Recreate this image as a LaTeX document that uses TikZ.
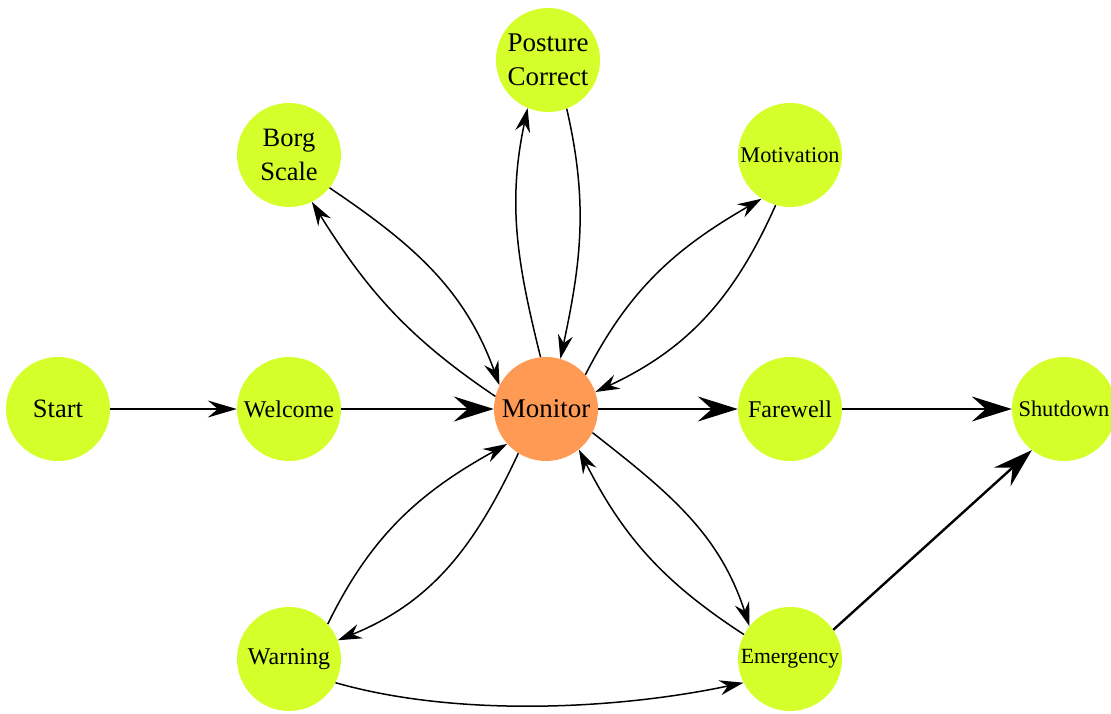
\documentclass[tikz,border=0pt]{standalone}
\usepackage{fontspec}
\setmainfont{Liberation Serif}
\usetikzlibrary{arrows.meta}
\definecolor{stgreen}{RGB}{213,255,43}
\definecolor{storange}{RGB}{255,154,85}
\begin{document}
\begin{tikzpicture}[x=1pt,y=1pt,
  state/.style={circle, fill=stgreen, minimum size=104pt, inner sep=0pt, align=center},
  bigarrow/.style={line width=2.4pt, -{Stealth[length=40pt,width=25pt,inset=14pt]}},
  thinarrow/.style={line width=1.7pt, -{Stealth[length=29pt,width=17pt,inset=10pt]}},
  curvearrow/.style={line width=1.5pt, -{Stealth[length=24pt,width=15pt,inset=8pt]}}]
\useasboundingbox (0,0) rectangle (1111,713);
\node[state, font=\fontsize{26.5}{32}\selectfont] (start) at (58,304) {Start};
\node[state, font=\fontsize{24}{29}\selectfont] (welcome) at (289,304) {Welcome};
\node[state, fill=storange, font=\fontsize{27}{32}\selectfont] (monitor) at (546,304) {Monitor};
\node[state, font=\fontsize{24}{29}\selectfont] (farewell) at (790,304) {Farewell};
\node[state, font=\fontsize{22.4}{27}\selectfont] (shutdown) at (1064,304) {Shutdown};
\node[state, font=\fontsize{26.5}{34}\selectfont] (borg) at (289,558) {Borg\\Scale};
\node[state, font=\fontsize{27}{34}\selectfont] (posture) at (548,653) {Posture\\Correct};
\node[state, font=\fontsize{22.3}{27}\selectfont] (motivation) at (790,558) {Motivation};
\node[state, font=\fontsize{24}{29}\selectfont] (warning) at (289,54) {Warning};
\node[state, font=\fontsize{21.7}{26}\selectfont] (emergency) at (790,54) {Emergency};

\draw[thinarrow] (start.east) -- (welcome.west);
\draw[bigarrow] (welcome.east) -- (monitor.west);
\draw[bigarrow] (monitor.east) -- (farewell.west);
\draw[bigarrow] (farewell.east) -- (shutdown.west);
\draw[bigarrow] (emergency.34) -- (shutdown.-128);

\draw[curvearrow] (borg.-39) to[out=-34, in=110] (monitor.153);
\draw[curvearrow] (monitor.166) to[out=146, in=-58] (borg.-64);
\draw[curvearrow] (monitor.96) to[out=104, in=-102] (posture.-113);
\draw[curvearrow] (posture.-69) to[out=-77, in=78] (monitor.74);
\draw[curvearrow] (monitor.41) to[out=63, in=210] (motivation.-123);
\draw[curvearrow] (motivation.-106) to[out=-114, in=25] (monitor.19);
\draw[curvearrow] (warning.42) to[out=64, in=209] (monitor.-138);
\draw[curvearrow] (monitor.-122) to[out=-115, in=22] (warning.21);
\draw[curvearrow] (monitor.-27) to[out=-38, in=108] (emergency.141);
\draw[curvearrow] (emergency.152) to[out=147, in=-63] (monitor.-51);
\draw[curvearrow] (warning.-27) to[out=-16, in=192, looseness=0.8] (emergency.-153);
\end{tikzpicture}
\end{document}
